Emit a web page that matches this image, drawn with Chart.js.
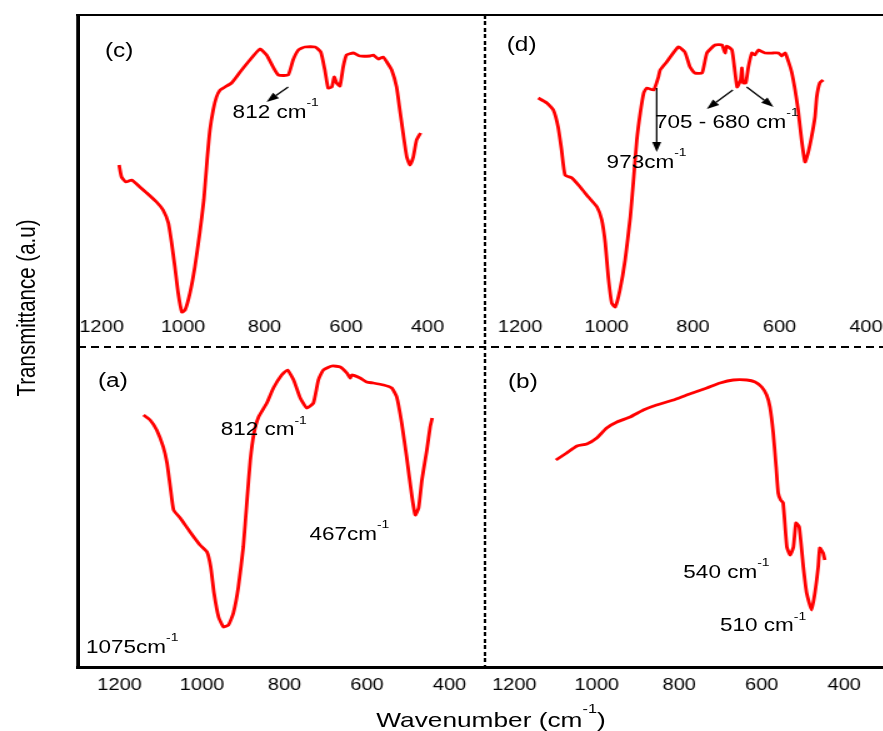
<!DOCTYPE html>
<html>
<head>
<meta charset="utf-8">
<script src="https://cdn.jsdelivr.net/npm/chart.js@4/dist/chart.umd.min.js"></script>
<style>
html,body{margin:0;padding:0;background:#fff;overflow:hidden;width:883px;height:731px;}
#page{position:absolute;left:0;top:0;width:706.4px;height:731px;transform:scaleX(1.25);transform-origin:0 0;
  font-family:"Liberation Sans",Arial,Helvetica,sans-serif;color:#000;}
#page canvas{position:absolute;}
.ln{position:absolute;background:#000;}
.t{position:absolute;white-space:nowrap;line-height:1;}
.t sup{font-size:0.62em;position:relative;top:-1.05em;vertical-align:baseline;line-height:0;}
.ann{font-size:18px;}
.pl{font-size:19.5px;}
</style>
</head>
<body>
<div id="page">
  <div class="ln" style="left:61px;top:14px;width:2.8px;height:655px;"></div>
  <div class="ln" style="left:61px;top:14px;width:646px;height:2.4px;"></div>
  <div class="ln" style="left:61px;top:666px;width:646px;height:2.8px;"></div>
  <div class="ln" style="left:63px;top:346px;width:644px;height:2px;background:repeating-linear-gradient(90deg,#000 0 6px,transparent 6px 10px);"></div>
  <div class="ln" style="left:386.8px;top:15px;width:2.4px;height:652px;background:repeating-linear-gradient(180deg,#000 0 4px,transparent 4px 6.5px);"></div>

  <canvas id="panelC" width="326" height="322" style="left:62px;top:15px;width:326px;height:322px;"></canvas>
  <canvas id="panelD" width="319" height="322" style="left:388px;top:15px;width:319px;height:322px;"></canvas>
  <canvas id="panelA" width="326" height="349" style="left:62px;top:347px;width:326px;height:349px;"></canvas>
  <canvas id="panelB" width="319" height="349" style="left:388px;top:347px;width:319px;height:349px;"></canvas>

  <div class="t pl" style="left:84px;top:41.4px;">(c)</div>
  <div class="t pl" style="left:405.4px;top:35.4px;">(d)</div>
  <div class="t pl" style="left:78.4px;top:371.4px;">(a)</div>
  <div class="t pl" style="left:406.4px;top:372.4px;">(b)</div>

  <div class="t ann" style="left:186.1px;top:103px;">812 cm<sup>-1</sup></div>
  <div class="t ann" style="left:524px;top:113px;">705 - 680 cm<sup>-1</sup></div>
  <div class="t ann" style="left:485.3px;top:153px;">973cm<sup>-1</sup></div>
  <div class="t ann" style="left:176.5px;top:420.4px;">812 cm<sup>-1</sup></div>
  <div class="t ann" style="left:247.5px;top:524.7px;">467cm<sup>-1</sup></div>
  <div class="t ann" style="left:68.8px;top:638px;">1075cm<sup>-1</sup></div>
  <div class="t ann" style="left:546.7px;top:563px;">540 cm<sup>-1</sup></div>
  <div class="t ann" style="left:576px;top:616.4px;">510 cm<sup>-1</sup></div>

  <div class="t" style="left:392.8px;top:708.8px;font-size:21px;transform:translateX(-50%);">Wavenumber (cm<sup>-1</sup>)</div>
  <div class="t" style="left:20.9px;top:308px;font-size:20.5px;transform:translate(-50%,-50%) rotate(-90deg);">Transmittance (a.u)</div>
</div>

<script>
// ---- Data (wavenumber in cm^-1, transmittance in a.u.) ----
const tickValues = [1200, 1000, 800, 600, 400];

// (c)
const cWavenumber = [1157,1151,1140,1126,1106,1089,1065,1049,1036,1028,1020,1012,1003,995,983,971,959,949,941,934,926,918,909,897,881,860,836,811,795,779,766,742,730,717,701,676,662,652,644,635,629,623,615,607,599,582,566,541,533,521,509,500,488,476,468,460,451,443,435,427,417];
const cTransmittance = [148,136,131,133,126,120,111,103,90,70,46,20,1,3,20,46,80,113,153,183,203,216,223,226,230,241,253,264,258,246,238,238,253,263,266,266,261,243,225,226,236,230,227,246,258,260,257,257,258,254,256,251,243,226,203,180,156,148,156,173,180];
const cArrows = [[742,226,795,211]];

// (d)
const dWavenumber = [1158,1138,1123,1112,1104,1096,1080,1061,1042,1022,1011,1003,996,988,980,969,957,945,937,930,922,914,907,891,880,876,861,834,819,807,796,779,768,749,733,726,722,710,703,698,690,687,684,678,672,664,657,649,634,615,602,595,587,579,572,564,557,549,541,534,526,518,514,507,499];
const dTransmittance = [215,210,203,186,163,138,135,126,116,106,93,70,36,10,6,23,53,96,136,173,200,220,225,223,236,243,251,266,261,246,240,240,260,268,268,260,267,263,241,226,233,245,230,230,246,260,258,263,260,260,260,257,260,251,241,223,203,173,151,160,176,196,216,230,233];
const dArrows = [[884,225,884,161],[708,223,768,204],[676,226,614,206]];

// (a)
const aWavenumber = [1142,1126,1110,1094,1085,1077,1069,1053,1029,1005,988,979,971,960,948,936,924,912,900,891,883,874,863,843,827,807,793,778,762,746,730,718,706,685,665,649,641,637,617,601,585,560,540,528,516,504,491,483,475,467,455,447,442];
const aTransmittance = [252,247,237,220,204,180,157,149,135,122,115,100,74,50,40,42,54,80,120,167,207,234,250,264,279,292,297,287,269,259,264,287,297,301,300,294,289,292,289,285,284,282,279,270,244,210,170,152,159,187,217,240,249];

// (b)
const bWavenumber = [1099,1073,1048,1024,1000,976,951,919,887,855,814,782,733,701,669,636,616,600,588,580,572,565,560,554,548,539,531,523,517,509,499,491,479,471,463,459,451,447];
const bTransmittance = [207,214,221,223,229,239,245,250,257,262,267,272,279,284,287,287,285,280,272,260,234,200,174,167,164,120,112,120,144,140,100,74,57,74,100,119,114,107];

// ---- Annotation arrows drawn through the chart scales ----
const arrowPlugin = {
  id: 'arrows',
  afterDatasetsDraw(chart, args, opts) {
    const items = (opts && opts.items) || [];
    const ctx = chart.ctx, xs = chart.scales.x, ys = chart.scales.y;
    ctx.save();
    ctx.strokeStyle = '#000';
    ctx.fillStyle = '#000';
    ctx.lineWidth = 1.3;
    items.forEach(a => {
      const x1 = xs.getPixelForValue(a[0]), y1 = ys.getPixelForValue(a[1]);
      const x2 = xs.getPixelForValue(a[2]), y2 = ys.getPixelForValue(a[3]);
      const ang = Math.atan2(y2 - y1, x2 - x1);
      const L = 10, W = 3.6;
      const bx = x2 - L * Math.cos(ang), by = y2 - L * Math.sin(ang);
      ctx.beginPath(); ctx.moveTo(x1, y1); ctx.lineTo(bx, by); ctx.stroke();
      ctx.beginPath();
      ctx.moveTo(x2, y2);
      ctx.lineTo(bx - W * Math.sin(ang), by + W * Math.cos(ang));
      ctx.lineTo(bx + W * Math.sin(ang), by - W * Math.cos(ang));
      ctx.closePath(); ctx.fill();
    });
    ctx.restore();
  }
};

function makePanel(id, wn, tr, xMin, xMax, yMax, pad, axisH, arrows) {
  return new Chart(document.getElementById(id), {
    type: 'line',
    data: {
      datasets: [{
        data: wn.map((w, i) => ({ x: w, y: tr[i] })),
        borderColor: '#ff0000',
        borderWidth: 2.8,
        pointRadius: 0,
        tension: 0.15,
        fill: false,
        clip: false
      }]
    },
    options: {
      responsive: false,
      animation: false,
      devicePixelRatio: 1,
      layout: { padding: 0 },
      events: [],
      plugins: { legend: { display: false }, tooltip: { enabled: false }, arrows: { items: arrows } },
      scales: {
        x: {
          type: 'linear', reverse: true, min: xMin, max: xMax,
          grid: { display: false, drawTicks: false },
          border: { display: false },
          ticks: {
            autoSkip: false, maxRotation: 0, minRotation: 0, padding: pad, color: '#000',
            font: { family: '"Liberation Sans", Arial, sans-serif', size: 16 },
            callback: v => String(v)
          },
          afterBuildTicks: s => { s.ticks = tickValues.map(v => ({ value: v })); },
          afterFit: s => { s.height = axisH; s.paddingLeft = 0; s.paddingRight = 0; }
        },
        y: { display: false, min: 0, max: yMax }
      }
    },
    plugins: [arrowPlugin]
  });
}

makePanel('panelC', cWavenumber, cTransmittance, 259, 1259, 298, 5, 24, cArrows);
makePanel('panelD', dWavenumber, dTransmittance, 359, 1281, 298, 5, 24, dArrows);
makePanel('panelA', aWavenumber, aTransmittance, 314, 1302, 320, 9, 29, []);
makePanel('panelB', bWavenumber, bTransmittance, 304, 1271, 320, 9, 29, []);
</script>
</body>
</html>
